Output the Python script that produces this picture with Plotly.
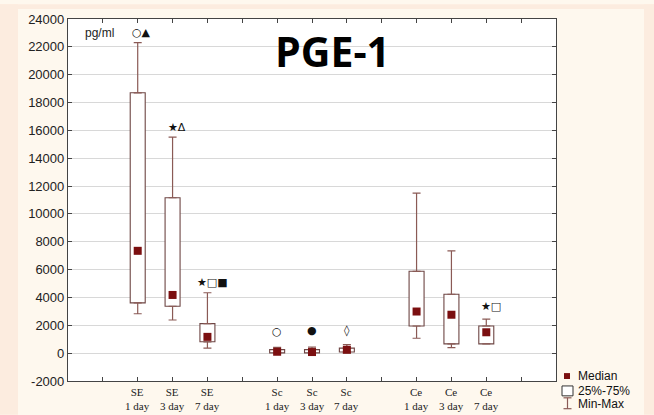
import plotly.graph_objects as go

# Group positions along the x axis (1..13); empty slots separate the groups
tick_pos = list(range(1, 14))
tick_labels = ["", "SE<br>1 day", "SE<br>3 day", "SE<br>7 day", "",
               "Sc<br>1 day", "Sc<br>3 day", "Sc<br>7 day", "",
               "Ce<br>1 day", "Ce<br>3 day", "Ce<br>7 day", ""]
y_ticks = list(range(-2000, 24001, 2000))
y_tick_text = [str(v) for v in y_ticks]

# Box statistics, PGE-1 (pg/ml)
groups = ["SE 1 day", "SE 3 day", "SE 7 day",
          "Sc 1 day", "Sc 3 day", "Sc 7 day",
          "Ce 1 day", "Ce 3 day", "Ce 7 day"]
positions = [2, 3, 4, 6, 7, 8, 10, 11, 12]
minimum = [2830, 2380, 360, 0, 0, 0, 1070, 390, 670]
q1 = [3610, 3370, 815, 20, 20, 80, 1950, 670, 670]
median = [7350, 4180, 1170, 100, 80, 250, 2990, 2760, 1500]
q3 = [18700, 11160, 2120, 250, 250, 360, 5880, 4230, 1950]
maximum = [22300, 15520, 4340, 420, 430, 620, 11490, 7350, 2450]

# Significance marks drawn above the groups
sig_text = ["○▲", "★Δ", "★□■", "○", "●", "◊", "", "", "★□"]
sig_y = [23000, 16230, 5050, 1550, 1650, 1650, None, None, 3320]
sig_dx = [4, 4, 5, 0, 0, 0, 0, 0, 5]

BOX_LINE = "#6e4644"
WHISKER = "#8a5a55"
MEDIAN = "#7b0f10"
PANEL = "#fef8ee"
OUTER = "#fcecdf"

fig = go.Figure()

# 25%-75% boxes
fig.add_trace(go.Bar(
    x=positions, y=[b - a for a, b in zip(q1, q3)], base=q1, width=0.43,
    marker=dict(color="white", line=dict(color=BOX_LINE, width=1.1)),
    showlegend=False, hoverinfo="skip"))

# Upper whiskers: from box top to maximum
fig.add_trace(go.Scatter(
    x=positions, y=q3, mode="markers", marker=dict(size=1, opacity=0),
    error_y=dict(type="data", symmetric=False,
                 array=[mx - t for mx, t in zip(maximum, q3)],
                 arrayminus=[0] * len(q3), color=WHISKER, thickness=1.2, width=4),
    showlegend=False, hoverinfo="skip"))

# Lower whiskers: from box bottom to minimum
fig.add_trace(go.Scatter(
    x=positions, y=q1, mode="markers", marker=dict(size=1, opacity=0),
    error_y=dict(type="data", symmetric=False,
                 array=[0] * len(q1),
                 arrayminus=[b - mn for b, mn in zip(q1, minimum)],
                 color=WHISKER, thickness=1.2, width=4),
    showlegend=False, hoverinfo="skip"))

# Medians
fig.add_trace(go.Scatter(
    x=positions, y=median, mode="markers",
    marker=dict(symbol="square", size=8, color=MEDIAN),
    showlegend=False, hoverinfo="skip"))

annotations = []
for p, t, y, dx in zip(positions, sig_text, sig_y, sig_dx):
    if t and y is not None:
        annotations.append(dict(x=p, y=y, xref="x", yref="y", text=t, showarrow=False,
                                xshift=dx, font=dict(family="DejaVu Sans", size=11, color="#111")))

# Two-line category labels under the axis
for p, lab in zip(tick_pos, tick_labels):
    if lab:
        annotations.append(dict(x=p, y=0, xref="x", yref="paper", text=lab, showarrow=False,
                                yanchor="middle", yshift=-18,
                                font=dict(family="Liberation Serif", size=11, color="#222")))

annotations += [
    dict(x=0.5, y=23000, xref="x", yref="y", text="pg/ml", showarrow=False, xanchor="center",
         xshift=14, font=dict(family="Liberation Sans", size=12, color="#222")),
    dict(x=0.543, y=0.912, xref="paper", yref="paper", text="<b>PGE-1</b>", showarrow=False,
         yanchor="middle", font=dict(family="Open Sans", size=41, color="black")),
]

PW, PH = 488.0, 366.0  # plot area size in px

# legend entries
legend_items = ["Median", "25%-75%", "Min-Max"]
legend_rows = [376, 391, 404]
for name, row in zip(legend_items, legend_rows):
    annotations.append(dict(x=1 + 20 / PW, y=(381 - row) / PH, xref="paper", yref="paper", text=name,
                            showarrow=False, xanchor="left", yanchor="middle",
                            font=dict(family="Liberation Sans", size=12, color="#111")))

shapes = [
    # peach border strips around the light panel
    dict(type="rect", xref="paper", yref="paper", x0=-68 / PW, x1=-50 / PW, y0=-34 / PH, y1=1 + 15 / PH,
         fillcolor=OUTER, line=dict(width=0), layer="below"),
    dict(type="rect", xref="paper", yref="paper", x0=1 + 88 / PW, x1=1 + 98 / PW, y0=-34 / PH, y1=1 + 15 / PH,
         fillcolor=OUTER, line=dict(width=0), layer="below"),
    dict(type="rect", xref="paper", yref="paper", x0=-68 / PW, x1=1 + 98 / PW, y0=1 + 10 / PH, y1=1 + 15 / PH,
         fillcolor=OUTER, line=dict(width=0), layer="below"),
    # legend icons
    dict(type="rect", xref="paper", yref="paper", x0=1 + 8 / PW, x1=1 + 14 / PW,
         y0=(381 - 379) / PH, y1=(381 - 373) / PH, fillcolor=MEDIAN, line=dict(width=0)),
    dict(type="rect", xref="paper", yref="paper", x0=1 + 6 / PW, x1=1 + 17 / PW,
         y0=(381 - 396) / PH, y1=(381 - 386) / PH, fillcolor="white", line=dict(color="#333", width=1)),
    dict(type="line", xref="paper", yref="paper", x0=1 + 11.5 / PW, x1=1 + 11.5 / PW,
         y0=(381 - 409) / PH, y1=(381 - 398) / PH, line=dict(color=WHISKER, width=1.2)),
    dict(type="line", xref="paper", yref="paper", x0=1 + 7.5 / PW, x1=1 + 15.5 / PW,
         y0=(381 - 398) / PH, y1=(381 - 398) / PH, line=dict(color=WHISKER, width=1.2)),
    dict(type="line", xref="paper", yref="paper", x0=1 + 7.5 / PW, x1=1 + 15.5 / PW,
         y0=(381 - 409) / PH, y1=(381 - 409) / PH, line=dict(color=WHISKER, width=1.2)),
]

fig.update_layout(
    width=654, height=415,
    margin=dict(l=68, r=98, t=15, b=34),
    paper_bgcolor=PANEL, plot_bgcolor="white",
    barmode="overlay", showlegend=False,
    annotations=annotations, shapes=shapes,
    xaxis=dict(range=[0, 14], tickmode="array", tickvals=tick_pos, ticktext=[""] * len(tick_pos),
               ticks="inside", ticklen=4, tickcolor="#444", mirror="allticks",
               showline=True, linecolor="#444", linewidth=1.2, showgrid=False, zeroline=False),
    yaxis=dict(range=[-2000, 24000], tickmode="array", tickvals=y_ticks, ticktext=y_tick_text,
               ticks="inside", ticklen=4, tickcolor="#444", mirror="allticks",
               showline=True, linecolor="#444", linewidth=1.2,
               showgrid=True, gridcolor="#d8d8d8", gridwidth=1, zeroline=False,
               tickfont=dict(family="Liberation Sans", size=13, color="#222")),
)

fig.write_html("out.html")
